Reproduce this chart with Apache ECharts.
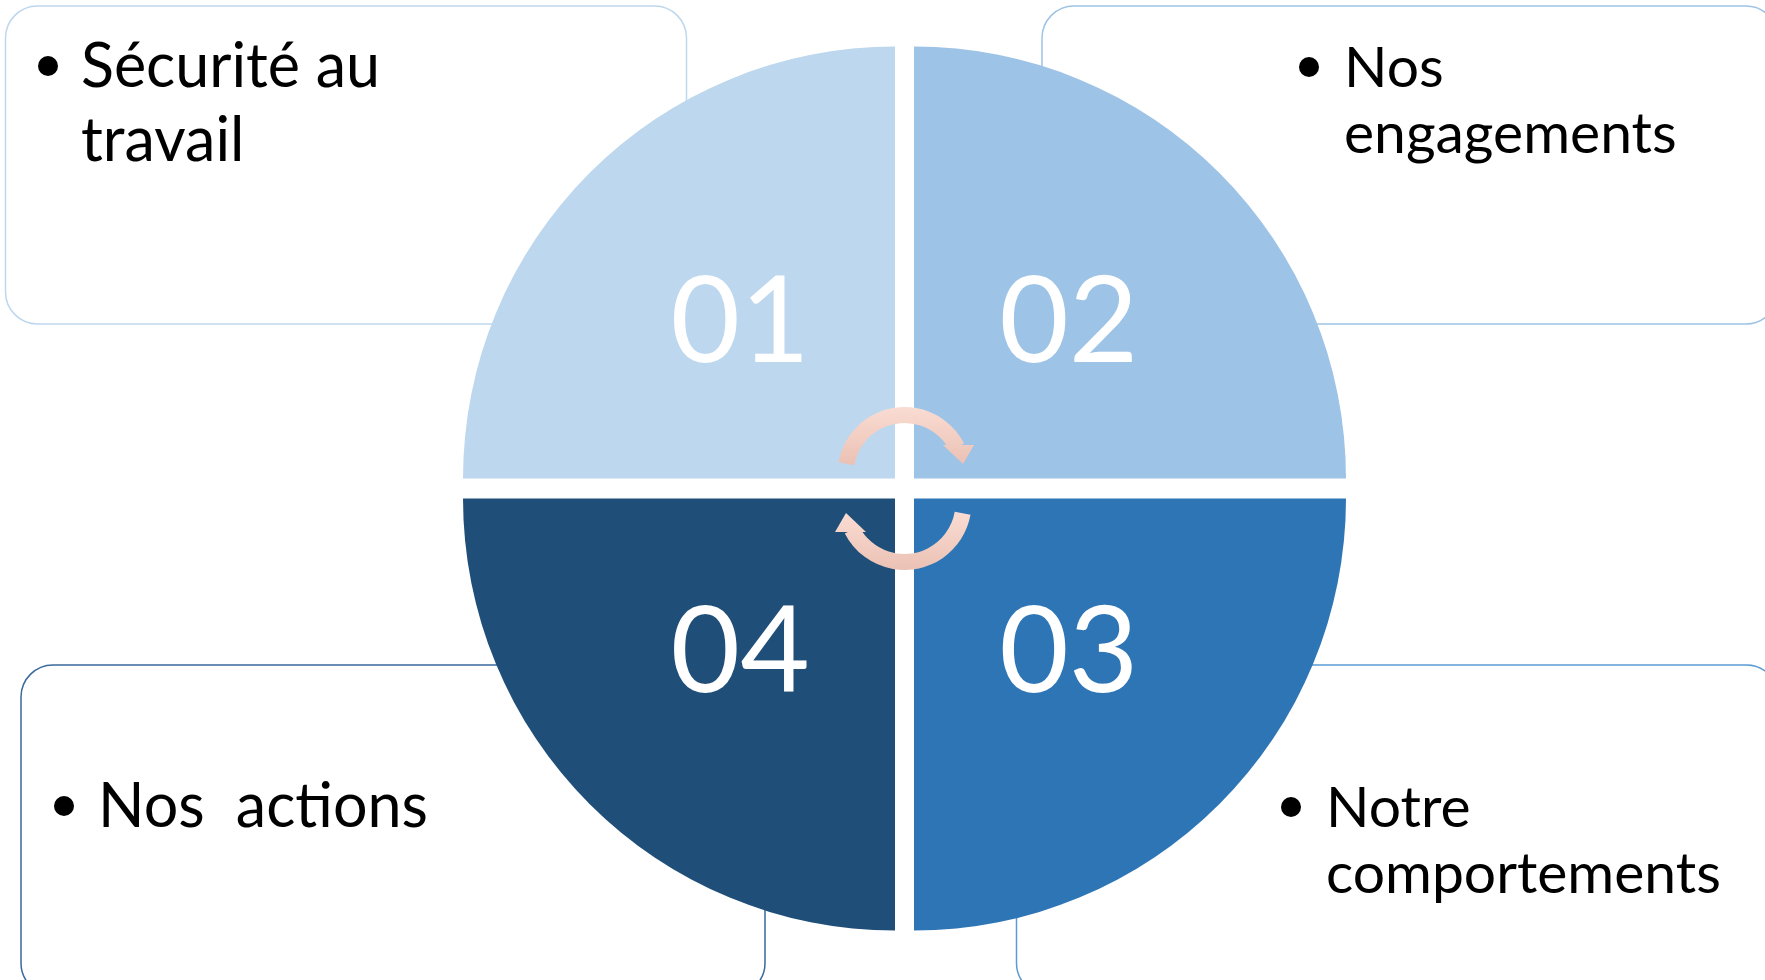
<!DOCTYPE html>
<html><head><meta charset="utf-8">
<script src="https://cdn.jsdelivr.net/npm/echarts@6/dist/echarts.min.js"></script>
<style>html,body{margin:0;padding:0;background:#fff}#c{width:1765px;height:980px}</style>
</head><body><div id="c"></div>
<script>
// ---- data ----
const quadrantNumbers = ['01', '02', '03', '04'];
const quadrantShares = [1, 3];            // each quadrant = one quarter of the disc
const quadrantColors = ['#BDD7EE', '#9DC3E6', '#2E75B6', '#1F4E79'];
const topic1 = ['Sécurité au', 'travail'];
const topic2 = ['Nos', 'engagements'];
const topic3 = ['Notre', 'comportements'];
const topic4 = ['Nos  actions'];

// ---- layout ----
const W = 1765, H = 980;
const CX = 904.5, CY = 488.5, GX = 9.5, GY = 10, R = 432;
const quadrantLayout = [
  { dx: -1, dy: -1, start: 180 },
  { dx: 1, dy: -1, start: 90 },
  { dx: 1, dy: 1, start: 0 },
  { dx: -1, dy: 1, start: -90 }
];
const FONT = 'Lato, "Open Sans", sans-serif';

const series = quadrantLayout.map((q, i) => ({
  type: 'pie',
  silent: true,
  z: 2,
  center: [CX + q.dx * GX, CY + q.dy * GY],
  radius: [0, R],
  startAngle: q.start,
  clockwise: true,
  animation: false,
  emphasis: { disabled: true },
  labelLine: { show: false },
  itemStyle: { borderWidth: 0 },
  data: [
    {
      name: quadrantNumbers[i], value: quadrantShares[0],
      itemStyle: { color: quadrantColors[i], borderWidth: 0 },
      label: {
        show: true, position: 'inside', formatter: '{b}', color: '#fff',
        fontSize: 120, fontFamily: FONT, fontWeight: 'normal'
      }
    },
    {
      name: '', value: quadrantShares[1],
      itemStyle: { color: 'rgba(0,0,0,0)', borderWidth: 0 },
      label: { show: false }
    }
  ]
}));

// text boxes (behind the disc)
function box(x, y, w, h, color) {
  return { type: 'rect', z: -10, silent: true,
    shape: { x, y, width: w, height: h, r: 32 },
    style: { fill: '#fff', stroke: color, lineWidth: 1.5 } };
}
function bullet(x, y) {
  return { type: 'circle', z: -5, silent: true, shape: { cx: x, cy: y, r: 10 }, style: { fill: '#000' } };
}
function line(text, x, baseline, size) {
  return { type: 'text', z: -5, silent: true,
    style: { text, x, y: baseline + size * 0.185, fill: '#000', fontSize: size, fontFamily: FONT,
      textAlign: 'left', textVerticalAlign: 'bottom' } };
}
const SA = 61, SB = 57;
const graphics = [
  box(5.5, 6, 681, 318, '#BDD7EE'),
  box(1042, 6, 736, 318, '#9DC3E6'),
  box(21, 665, 744, 330, '#3A6A9A'),
  box(1016.5, 665, 762, 330, '#5B9BD5'),
  bullet(48, 66), line(topic1[0], 81, 87, SA), line(topic1[1], 81, 161, SA),
  bullet(1309, 67), line(topic2[0], 1344, 87, SB), line(topic2[1], 1344, 153, SB),
  bullet(64, 806), line(topic4[0], 98, 827, SA),
  bullet(1291, 807), line(topic3[0], 1326, 827, SB), line(topic3[1], 1326, 893, SB)
];

// cycle arrows in the middle
function arrow(rot, stops) {
  const grad = { type: 'linear', x: 0, y: -82, x2: 0, y2: -24, global: true, colorStops: stops };
  return {
    type: 'group', x: CX, y: CY, rotation: rot, z: 100, silent: true,
    children: [
      { type: 'sector', z: 100, shape: { cx: 0, cy: -14.5, r0: 51, r: 67,
          startAngle: 190 * Math.PI / 180, endAngle: 333 * Math.PI / 180, clockwise: true },
        style: { fill: grad } },
      { type: 'polygon', z: 100, shape: { points: [[38.5, -43.5], [69.5, -43.5], [58.5, -24.5]] },
        style: { fill: grad } }
    ]
  };
}
const light = '#FADCD3', dark = '#EBC1B4';
graphics.push(arrow(0, [{ offset: 0, color: light }, { offset: 1, color: dark }]));
graphics.push(arrow(Math.PI, [{ offset: 0, color: dark }, { offset: 1, color: light }]));

const chart = echarts.init(document.getElementById('c'), null, { renderer: 'canvas' });
chart.setOption({
  backgroundColor: '#fff',
  animation: false,
  series,
  graphic: graphics
});
</script></body></html>
